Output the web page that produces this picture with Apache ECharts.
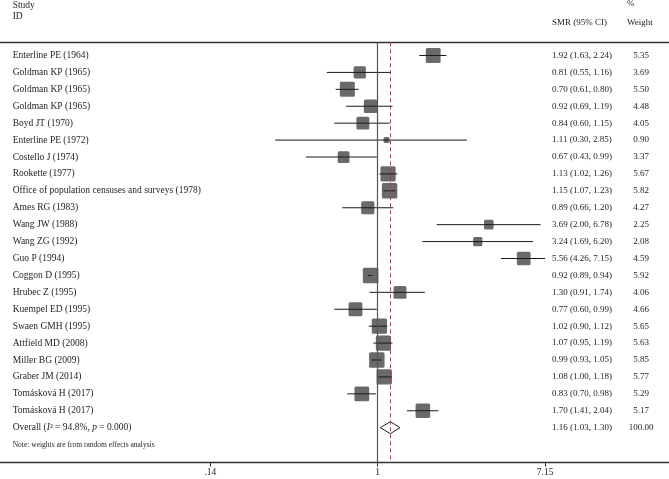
<!DOCTYPE html>
<html><head><meta charset="utf-8">
<script src="https://cdn.jsdelivr.net/npm/echarts@6/dist/echarts.min.js"></script>
<style>html,body{margin:0;padding:0;background:#fff}#c{width:669px;height:479px}</style>
</head><body><div id="c"></div>
<script>
var studies = ['Enterline PE (1964)','Goldman KP (1965)','Goldman KP (1965)','Goldman KP (1965)','Boyd JT (1970)','Enterline PE (1972)','Costello J (1974)','Rookette (1977)','Office of population censuses and surveys (1978)','Ames RG (1983)','Wang JW (1988)','Wang ZG (1992)','Guo P (1994)','Coggon D (1995)','Hrubec Z (1995)','Kuempel ED (1995)','Swaen GMH (1995)','Attfield MD (2008)','Miller BG (2009)','Graber JM (2014)','Tomásková H (2017)','Tomásková H (2017)'];
var smr    = [1.92,0.81,0.70,0.92,0.84,1.11,0.67,1.13,1.15,0.89,3.69,3.24,5.56,0.92,1.30,0.77,1.02,1.07,0.99,1.08,0.83,1.70];
var lower  = [1.63,0.55,0.61,0.69,0.60,0.30,0.43,1.02,1.07,0.66,2.00,1.69,4.26,0.89,0.91,0.60,0.90,0.95,0.93,1.00,0.70,1.41];
var upper  = [2.24,1.16,0.80,1.19,1.15,2.85,0.99,1.26,1.23,1.20,6.78,6.20,7.15,0.94,1.74,0.99,1.12,1.19,1.05,1.18,0.98,2.04];
var weight = [5.35,3.69,5.50,4.48,4.05,0.90,3.37,5.67,5.82,4.27,2.25,2.08,4.59,5.92,4.06,4.66,5.65,5.63,5.85,5.77,5.29,5.17];
var overall = {smr:1.16, lower:1.03, upper:1.30, weight:100.00, i2:'94.8%', p:'0.000'};
var tickValues = [0.14, 1, 7.15];
var tickLabels = ['.14', '1', '7.15'];

var SERIF = '"Liberation Serif","DejaVu Serif",serif';
var TXT = '#1e1e1e';
var f2 = function(v){return v.toFixed(2);};

var forestData = smr.map(function(v,i){return [i, Math.log(v), Math.log(lower[i]), Math.log(upper[i]), weight[i]];});
var nOverall = studies.length;
var textData = studies.map(function(n,i){return [i, n, f2(smr[i])+' ('+f2(lower[i])+', '+f2(upper[i])+')', f2(weight[i])];});
textData.push([nOverall, 'OVERALL', f2(overall.smr)+' ('+f2(overall.lower)+', '+f2(overall.upper)+')', f2(overall.weight)]);

var chart = echarts.init(document.getElementById('c'), null, {renderer:'canvas'});
var option = {
  animation:false,
  backgroundColor:'#fff',
  grid:{left:0, right:0, top:42.3, height:420.4},
  xAxis:[{
    type:'value', min:Math.log(0.01182), max:Math.log(30.66), position:'bottom',
    splitLine:{show:false},
    axisLine:{show:true, onZero:false, lineStyle:{color:'#333', width:1.3}},
    axisTick:{show:true, length:4, lineStyle:{color:'#333'}, customValues: tickValues.map(Math.log)},
    axisLabel:{show:true, margin:5, color:TXT, fontFamily:SERIF, fontSize:9.5,
      customValues: tickValues.map(Math.log),
      formatter:function(v){ for(var k=0;k<tickValues.length;k++){ if(Math.abs(Math.log(tickValues[k])-v)<1e-6) return tickLabels[k]; } return ''; }}
  },{
    type:'value', min:Math.log(0.01182), max:Math.log(30.66), position:'top',
    splitLine:{show:false}, axisTick:{show:false}, axisLabel:{show:false},
    axisLine:{show:true, onZero:false, lineStyle:{color:'#333', width:1.3}}
  }],
  yAxis:{type:'value', inverse:true, min:-0.78, max:24.07, show:false},
  series:[
    {
      type:'custom', xAxisIndex:0, z:3,
      data: forestData,
      renderItem:function(params, api){
        var i = api.value(0);
        var p = api.coord([api.value(1), i]);
        var pl = api.coord([api.value(2), i]);
        var ph = api.coord([api.value(3), i]);
        var s = 6.4*Math.sqrt(api.value(4));
        return {type:'group', children:[
          {type:'rect', shape:{x:p[0]-s/2, y:p[1]-s/2, width:s, height:s, r:1.5}, style:{fill:'#6a6a6a'}},
          {type:'line', shape:{x1:pl[0], y1:pl[1], x2:ph[0], y2:ph[1]}, style:{stroke:'#1a1a1a', lineWidth:1}}
        ]};
      },
      markLine:{
        silent:true, symbol:'none', label:{show:false},
        data:[
          {xAxis:0, lineStyle:{color:'#555', width:1.2, type:'solid'}},
          {xAxis:Math.log(overall.smr), lineStyle:{color:'#c0392b', width:1, type:[4,3]}}
        ]
      }
    },
    {
      type:'custom', xAxisIndex:0, z:4,
      data:[[nOverall, Math.log(overall.smr), Math.log(overall.lower), Math.log(overall.upper)]],
      renderItem:function(params, api){
        var i = api.value(0);
        var p = api.coord([api.value(1), i]);
        var pl = api.coord([api.value(2), i]);
        var ph = api.coord([api.value(3), i]);
        var h = 6;
        return {type:'polygon', shape:{points:[[pl[0],p[1]],[p[0],p[1]-h],[ph[0],p[1]],[p[0],p[1]+h]]},
          style:{fill:'#fff', stroke:'#222', lineWidth:1}};
      }
    },
    {
      type:'custom', xAxisIndex:0, z:5,
      data: textData,
      renderItem:function(params, api){
        var d = textData[params.dataIndex];
        var y = api.coord([0, d[0]])[1];
        var nameEl;
        if(d[1]==='OVERALL'){
          nameEl = {type:'text', x:12.7, y:y, style:{
            text:'Overall ({it|I}² = '+overall.i2+', {it|p} = '+overall.p+')',
            fontFamily:SERIF, fontSize:9.5, fill:TXT, verticalAlign:'middle', align:'left',
            rich:{it:{fontStyle:'italic', fontFamily:SERIF, fontSize:9.5, fill:TXT}}}};
        } else {
          nameEl = {type:'text', x:12.7, y:y, style:{text:d[1], fontFamily:SERIF, fontSize:9.5, fill:TXT, verticalAlign:'middle', align:'left'}};
        }
        return {type:'group', children:[
          nameEl,
          {type:'text', x:552, y:y, style:{text:d[2], fontFamily:SERIF, fontSize:9, fill:TXT, verticalAlign:'middle', align:'left'}},
          {type:'text', x:641, y:y, style:{text:d[3], fontFamily:SERIF, fontSize:9, fill:TXT, verticalAlign:'middle', align:'center'}}
        ]};
      }
    }
  ],
  graphic:[
    {type:'text', left:12.7, top:0, style:{text:'Study', fontFamily:SERIF, fontSize:9.5, fill:TXT}},
    {type:'text', left:12.7, top:11, style:{text:'ID', fontFamily:SERIF, fontSize:9.5, fill:TXT}},
    {type:'text', left:627, top:-1, style:{text:'%', fontFamily:SERIF, fontSize:9, fill:TXT}},
    {type:'text', left:552, top:18, style:{text:'SMR (95% CI)', fontFamily:SERIF, fontSize:9, fill:TXT}},
    {type:'text', left:627, top:18, style:{text:'Weight', fontFamily:SERIF, fontSize:9, fill:TXT}},
    {type:'text', left:12.7, top:441, style:{text:'Note: weights are from random effects analysis', fontFamily:SERIF, fontSize:7.5, fill:TXT}}
  ]
};
chart.setOption(option);
</script>
</body></html>
